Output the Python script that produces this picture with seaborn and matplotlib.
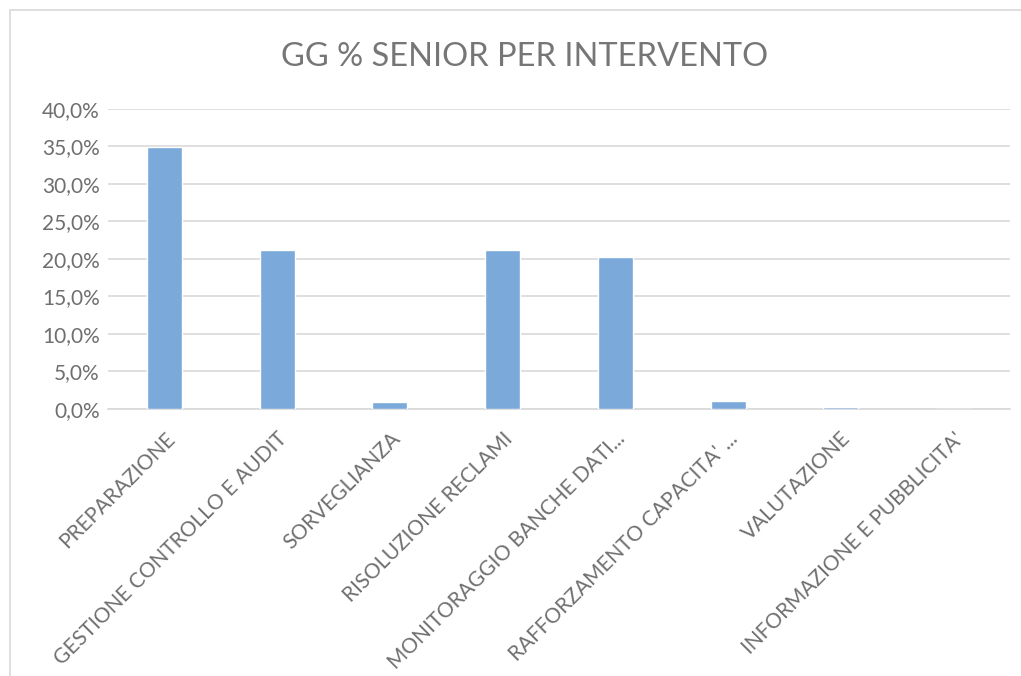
import matplotlib
matplotlib.use("Agg")
import matplotlib.pyplot as plt
import seaborn as sns
import pandas as pd
from matplotlib.ticker import FuncFormatter, MultipleLocator
from matplotlib.patches import Rectangle

categories = ["PREPARAZIONE", "GESTIONE CONTROLLO E AUDIT", "SORVEGLIANZA",
              "RISOLUZIONE RECLAMI", "MONITORAGGIO BANCHE DATI...",
              "RAFFORZAMENTO CAPACITA' ...", "VALUTAZIONE",
              "INFORMAZIONE E PUBBLICITA'"]
values = [0.349, 0.212, 0.009, 0.212, 0.203, 0.010, 0.002, 0.0]

df = pd.DataFrame({"intervento": categories, "gg": values})

sns.set_style("white")
plt.rcParams['font.family'] = ['Lato', 'DejaVu Sans']
grey = "#6f6f6f"

fig = plt.figure(figsize=(10.21, 6.76), dpi=100)
ax = fig.add_axes([0.106, 0.395, 0.883, 0.444])

sns.barplot(data=df, x="intervento", y="gg", color="#7aa9da", width=0.31,
            saturation=1, ax=ax, zorder=3)

ax.set_ylim(0, 0.40)
ax.yaxis.set_major_locator(MultipleLocator(0.05))
ax.yaxis.set_major_formatter(FuncFormatter(lambda v, p: f"{v*100:.1f}%".replace(".", ",")))
ax.grid(axis="y", color="#d9d9d9", linewidth=1.2, zorder=0)
for s in ["top", "right", "left"]:
    ax.spines[s].set_visible(False)
ax.spines["bottom"].set_color("#d9d9d9")
ax.spines["bottom"].set_linewidth(1.2)
ax.tick_params(axis="both", length=0, colors=grey, labelsize=15)
ax.set_xticks(range(len(categories)))
ax.set_xticklabels(categories, rotation=45, ha="right", rotation_mode="anchor",
                   fontsize=15, color=grey)
ax.tick_params(axis="x", pad=14)
ax.tick_params(axis="y", pad=6)
ax.set_xlabel("")
ax.set_ylabel("")
ax.set_xlim(-0.5, len(categories) - 0.5)

fig.text(0.514, 0.915, "GG % SENIOR PER INTERVENTO", ha="center", va="center",
         fontsize=23.5, color="#767676")

fig.patches.append(Rectangle((0.01, -0.01), 1.0, 0.995, transform=fig.transFigure,
                             fill=False, edgecolor="#d9d9d9", linewidth=1.2))

fig.savefig("out.png", dpi=100)
